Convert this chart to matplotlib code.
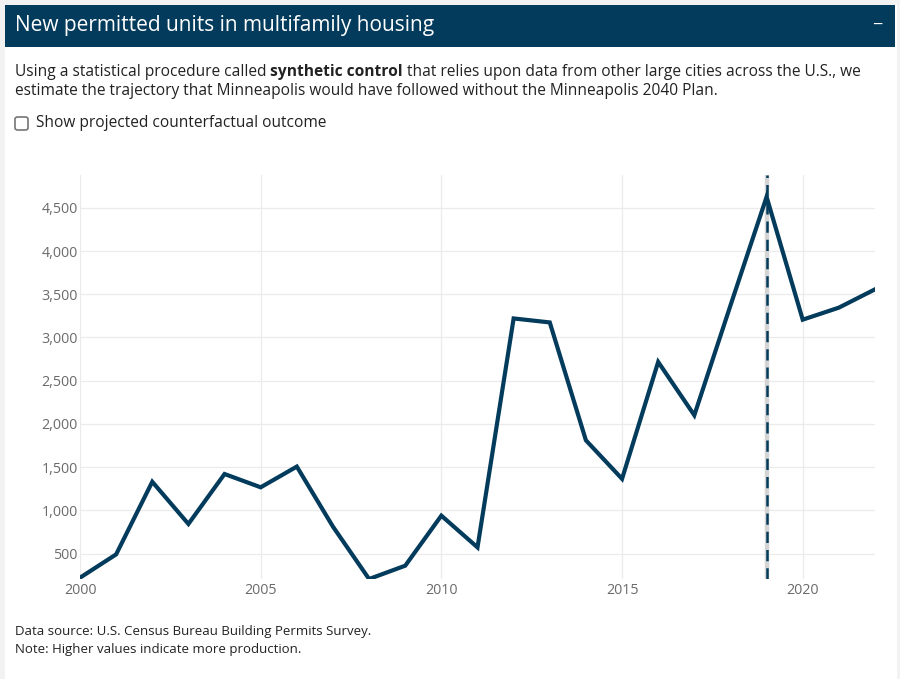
import numpy as np
import matplotlib.pyplot as plt
from matplotlib.patches import Rectangle, FancyBboxPatch

years = list(range(2000, 2023))
units = [220, 490, 1330, 842, 1420, 1266, 1506, 811, 205, 359, 938, 571,
         3220, 3174, 1810, 1364, 2717, 2100, 3370, 4627, 3206, 3345, 3557]
plan_year = 2019
y_ticks = [500, 1000, 1500, 2000, 2500, 3000, 3500, 4000, 4500]
x_ticks = [2000, 2005, 2010, 2015, 2020]

navy = '#033b5c'
plt.rcParams['font.family'] = ['Open Sans', 'DejaVu Sans']

W, H = 900, 679
fig = plt.figure(figsize=(9, 6.79), dpi=100)
fig.patch.set_facecolor('#f2f2f2')

# white card and header band (behind the axes)
fig.add_artist(Rectangle((5 / W, 0), 892 / W, 1 - 5 / H, transform=fig.transFigure,
                         facecolor='white', edgecolor='none', zorder=-2))
fig.add_artist(Rectangle((5 / W, 1 - 47 / H), 890 / W, 42 / H, transform=fig.transFigure,
                         facecolor=navy, edgecolor='none', zorder=-1))
fig.text(15 / W, 1 - 26 / H, 'New permitted units in multifamily housing', color='white',
         fontsize=15, va='center', ha='left')
fig.text(877 / W, 1 - 25 / H, '\u2212', color='white', fontsize=13, va='center', ha='center')

# intro text with bold phrase
renderer = fig.canvas.get_renderer()
fs = 11.2
y1 = 1 - 72 / H
t1 = fig.text(15 / W, y1, 'Using a statistical procedure called ', fontsize=fs,
              color='#222222', va='center')
x = t1.get_window_extent(renderer).x1 / W
t2 = fig.text(x, y1, 'synthetic control', fontsize=fs, fontweight='bold',
              color='#222222', va='center')
x = t2.get_window_extent(renderer).x1 / W
fig.text(x, y1, ' that relies upon data from other large cities across the U.S., we',
         fontsize=fs, color='#222222', va='center')
fig.text(15 / W, 1 - 91 / H,
         'estimate the trajectory that Minneapolis would have followed without the Minneapolis 2040 Plan.',
         fontsize=fs, color='#222222', va='center')

# checkbox
fig.add_artist(FancyBboxPatch((15 / W, 1 - 130 / H), 13 / W, 13 / H,
                              boxstyle='round,pad=0,rounding_size=0.003',
                              transform=fig.transFigure, facecolor='white',
                              edgecolor='#767676', linewidth=1.2))
fig.text(36 / W, 1 - 123 / H, 'Show projected counterfactual outcome', fontsize=fs,
         color='#222222', va='center')

# chart
ax = fig.add_axes([80 / W, 1 - 579 / H, 795 / W, 404 / H])
ax.set_facecolor('none')
ax.plot(years, units, color=navy, linewidth=3, solid_joinstyle='miter', zorder=3)
ax.axvline(plan_year, color='#d4d4d4', linewidth=3.2, zorder=2)
ax.axvline(plan_year, color=navy, linewidth=1.8, linestyle=(0, (4.5, 2.8)), zorder=2.5)

ax.set_xlim(2000, 2022)
ax.set_ylim(205, 4880)
ax.set_xticks(x_ticks)
ax.set_yticks(y_ticks)
ax.set_yticklabels([f'{v:,}' for v in y_ticks])
ax.grid(True, color='#ebebeb', linewidth=0.9)
ax.set_axisbelow(True)
for s in ax.spines.values():
    s.set_visible(False)
ax.tick_params(length=0, labelsize=10.3, labelcolor='#6b6b6b')
ax.tick_params(axis='y', pad=1.5)
ax.tick_params(axis='x', pad=3)

fig.text(15 / W, 1 - 632 / H, 'Data source: U.S. Census Bureau Building Permits Survey.',
         fontsize=9.5, color='#222222', va='center')
fig.text(15 / W, 1 - 650 / H, 'Note: Higher values indicate more production.',
         fontsize=9.5, color='#222222', va='center')

plt.savefig('out.png', dpi=100)
